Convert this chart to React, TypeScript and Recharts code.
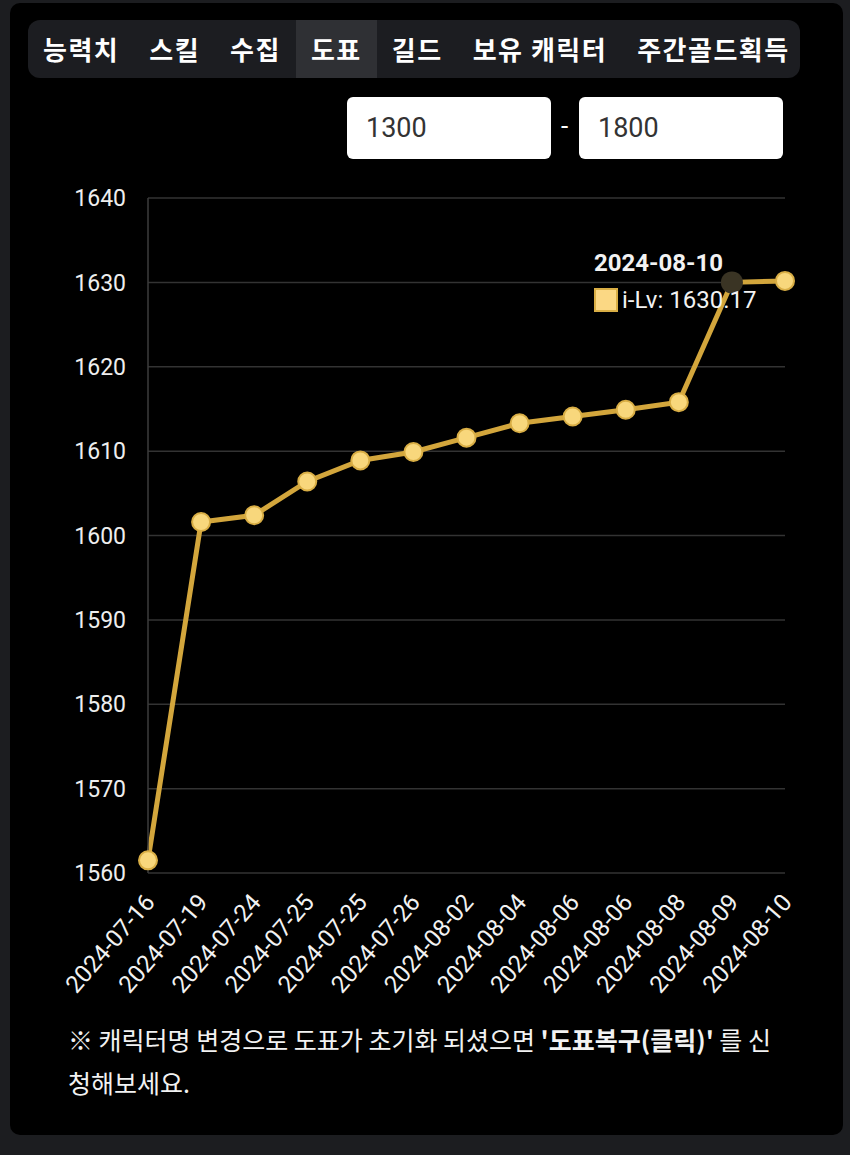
import React from "react";
import {
  LineChart,
  Line,
  XAxis,
  YAxis,
  CartesianGrid,
  Tooltip,
} from "recharts";

// tabs + range inputs at top of the panel
const tabs = ["능력치", "스킬", "수집", "도표", "길드", "보유 캐릭터", "주간골드획득"];
const selectedTab = "도표";
const rangeFrom = "1300";
const rangeTo = "1800";

// item level history
const dates = [
  "2024-07-16",
  "2024-07-19",
  "2024-07-24",
  "2024-07-25",
  "2024-07-25",
  "2024-07-26",
  "2024-08-02",
  "2024-08-04",
  "2024-08-06",
  "2024-08-06",
  "2024-08-08",
  "2024-08-09",
  "2024-08-10",
];
const levels = [
  1561.5, 1601.6, 1602.4, 1606.4, 1608.9, 1609.9, 1611.6, 1613.3, 1614.1,
  1614.9, 1615.8, 1630.0, 1630.17,
];
const yTicks = [1560, 1570, 1580, 1590, 1600, 1610, 1620, 1630, 1640];
const hoveredIndex = 11;
const tooltipIndex = 12;

const data = dates.map((date, i) => ({ date, level: levels[i] }));

const NUM_FONT = "Roboto, 'Noto Sans CJK KR', sans-serif";
const KR_FONT = "'Noto Sans CJK KR', 'Noto Sans', sans-serif";

const DateTick = ({ x, y, payload }: any) => (
  <g transform={`translate(${x + 8},${y + 22})`}>
    <text
      x={0}
      y={0}
      textAnchor="end"
      fill="#f2f2f2"
      fontSize={24}
      fontFamily={NUM_FONT}
      transform="rotate(-49)"
    >
      {payload.value}
    </text>
  </g>
);

const LevelDot = (props: any) => {
  const { cx, cy, index } = props;
  if (index === hoveredIndex) {
    return <circle key={index} cx={cx} cy={cy} r={11} fill="#3a3424" />;
  }
  return (
    <circle
      key={index}
      cx={cx}
      cy={cy}
      r={9}
      fill="#f8d77c"
      stroke="#d9ae45"
      strokeWidth={2}
    />
  );
};

const LevelTooltip = ({ payload, label }: any) => {
  if (!payload?.length) return null;
  return (
    <div style={{ fontFamily: NUM_FONT, color: "#f2f2f2", whiteSpace: "nowrap" }}>
      <div style={{ fontWeight: 700, fontSize: 24, lineHeight: "26px" }}>{label}</div>
      <div style={{ display: "flex", alignItems: "center", marginTop: 10, fontSize: 24 }}>
        <span
          style={{
            display: "inline-block",
            width: 20,
            height: 20,
            background: "#fbd884",
            border: "2px solid #d9ae45",
            marginRight: 4,
          }}
        />
        i-Lv: {payload[0].value}
      </div>
    </div>
  );
};

export default function App() {
  return (
    <div
      style={{
        position: "relative",
        width: 850,
        height: 1155,
        background: "#1c1d20",
        overflow: "hidden",
      }}
    >
      <style>{"body{margin:0;background:#1c1d20}"}</style>
      <div
        style={{
          position: "absolute",
          left: 10,
          top: 3,
          width: 833,
          height: 1132,
          background: "#000",
          borderRadius: 10,
        }}
      />

      {/* tab bar */}
      <div
        style={{
          position: "absolute",
          left: 28,
          top: 20,
          width: 772,
          height: 58,
          background: "#1c1d21",
          borderRadius: 12,
          display: "flex",
          overflow: "hidden",
        }}
      >
        {tabs.map((t) => (
          <div
            key={t}
            style={{
              padding: "0 15px",
              height: 58,
              lineHeight: "58px",
              fontFamily: KR_FONT,
              fontWeight: 700,
              fontSize: 26,
              letterSpacing: 1.5,
              color: "#fff",
              background: t === selectedTab ? "#2f3034" : "transparent",
              whiteSpace: "nowrap",
            }}
          >
            {t}
          </div>
        ))}
      </div>

      {/* range inputs */}
      {[
        { v: rangeFrom, left: 347 },
        { v: rangeTo, left: 579 },
      ].map((b) => (
        <div
          key={b.v}
          style={{
            position: "absolute",
            left: b.left,
            top: 97,
            width: 204,
            height: 62,
            background: "#fff",
            borderRadius: 6,
            boxSizing: "border-box",
            paddingLeft: 19,
            lineHeight: "62px",
            fontFamily: NUM_FONT,
            fontSize: 27,
            color: "#333",
          }}
        >
          {b.v}
        </div>
      ))}
      <div
        style={{
          position: "absolute",
          left: 561,
          top: 111,
          color: "#fff",
          fontFamily: NUM_FONT,
          fontSize: 26,
        }}
      >
        -
      </div>

      {/* chart */}
      <div style={{ position: "absolute", left: 20, top: 180 }}>
        <LineChart
          width={800}
          height={830}
          data={data}
          margin={{ top: 18, right: 35, bottom: 7, left: 0 }}
        >
          <CartesianGrid vertical={false} stroke="#333" strokeWidth={1.5} />
          <XAxis
            dataKey="date"
            axisLine={false}
            tickLine={false}
            interval={0}
            height={130}
            tick={<DateTick />}
          />
          <YAxis
            domain={[1560, 1640]}
            ticks={yTicks}
            width={128}
            axisLine={{ stroke: "#3d3d3d", strokeWidth: 1.5 }}
            tickLine={false}
            tickSize={0}
            tickMargin={22}
            tick={{ fill: "#eee", fontSize: 23, fontFamily: NUM_FONT }}
          />
          <Tooltip
            defaultIndex={tooltipIndex}
            active
            cursor={false}
            position={{ x: 574, y: 70 }}
            content={<LevelTooltip />}
            isAnimationActive={false}
          />
          <Line
            type="linear"
            dataKey="level"
            stroke="#d3a63c"
            strokeWidth={5}
            dot={<LevelDot />}
            activeDot={false}
            isAnimationActive={false}
          />
        </LineChart>
      </div>

      {/* footnote */}
      <div
        style={{
          position: "absolute",
          left: 68,
          top: 1018,
          width: 760,
          fontFamily: KR_FONT,
          fontSize: 25,
          lineHeight: "43px",
          color: "#f2f2f2",
          whiteSpace: "nowrap",
        }}
      >
        ※ 캐릭터명 변경으로 도표가 초기화 되셨으면 <b>'도표복구(클릭)'</b> 를 신
        <br />
        청해보세요.
      </div>
    </div>
  );
}
